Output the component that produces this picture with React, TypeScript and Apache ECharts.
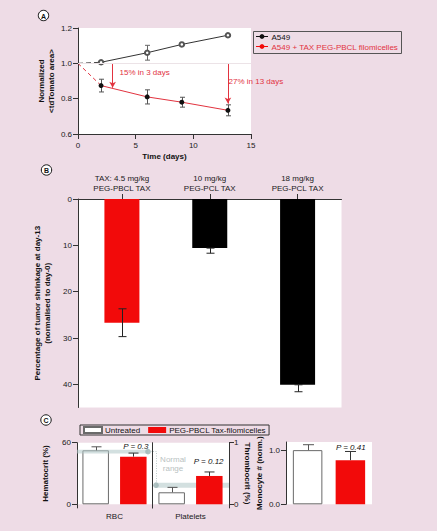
import React, { useEffect, useRef } from 'react';
import * as echarts from 'echarts';

const FONT = '"Liberation Sans", Arial, Helvetica, sans-serif';
const BG = '#eedce6';
const RED = '#f20a0a';
const LINE_RED = '#e2333f';
const AXIS = '#333333';
const BAND = 'rgba(175,198,198,0.55)';
const BAND_DOT = 'rgba(160,182,182,0.85)';
const WHITE_BAR_EDGE = '#6a6a6a';

// ---------- Panel A ----------
const days = [2, 6, 9, 13];
const controlMean = [1.006, 1.06, 1.107, 1.159];
const controlErr = [0.004, 0.042, 0.004, 0.004];
const treatedMean = [0.874, 0.81, 0.78, 0.734];
const treatedErr = [0.036, 0.04, 0.028, 0.031];
const baseline: [number, number] = [0, 1.0];
const arrowDays = [3, 13];
const arrowEnds = [0.862, 0.772];
const arrowTexts = ['15% in 3 days', '27% in 13 days'];
const legendA = ['A549', 'A549 + TAX PEG-PBCL filomicelles'];

// ---------- Panel B ----------
const doseCategories = ['TAX: 4.5 mg/kg\nPEG-PBCL TAX', '10 mg/kg\nPEG-PCL TAX', '18 mg/kg\nPEG-PCL TAX'];
const shrinkage = [26.7, 10.6, 40.1];
const shrinkageErr = [3.0, 1.1, 1.5];
const shrinkageTicks = [0, 10, 20, 30, 40];

// ---------- Panel C ----------
const groupNames = ['Untreated', 'PEG-PBCL Tax-filomicelles'];
const hematocrit = [52.6, 46.4];
const hematocritErr = [3.4, 3.5];
const thrombocrit = [0.195, 0.46];
const thrombocritErr = [0.08, 0.065];
const monocyte = [1.0, 0.815];
const monocyteErr = [0.1, 0.16];
const hematocritNormal = [49.4, 53.2];
const thrombocritNormal = [0.27, 0.35];
const monocyteTicks = [0, 1];
const pValues = ['P = 0.3', 'P = 0.12', 'P = 0.41'];

const axLine = (show = true) => ({ show, lineStyle: { color: AXIS, width: 1 } });
const axTick = (show = true, extra: any = {}) => ({ show, length: 5, lineStyle: { color: AXIS, width: 1 }, ...extra });
const axLabel = (extra: any = {}) => ({ fontSize: 8, color: '#1a1a1a', fontFamily: FONT, margin: 6, ...extra });
const nameStyle = { fontSize: 8, fontWeight: 'bold', color: '#111', fontFamily: FONT, lineHeight: 10 };

function errorBars(xAxisIndex: number, yAxisIndex: number, items: number[][], opt: { offset?: number; cap: number; color: string; both?: boolean; z?: number }) {
  return {
    type: 'custom',
    xAxisIndex,
    yAxisIndex,
    silent: true,
    z: opt.z ?? 10,
    data: items,
    renderItem: (_params: any, api: any) => {
      const x = api.value(0);
      const p1 = api.coord([x, api.value(1)]);
      const p2 = api.coord([x, api.value(2)]);
      const cx = Math.round(p1[0] + (opt.offset || 0)) + 0.5;
      const st = { stroke: opt.color, lineWidth: 1 };
      const children: any[] = [
        { type: 'line', shape: { x1: cx, y1: p1[1], x2: cx, y2: p2[1] }, style: st },
        { type: 'line', shape: { x1: cx - opt.cap, y1: p2[1], x2: cx + opt.cap, y2: p2[1] }, style: st },
      ];
      if (opt.both) children.push({ type: 'line', shape: { x1: cx - opt.cap, y1: p1[1], x2: cx + opt.cap, y2: p1[1] }, style: st });
      return { type: 'group', children };
    },
  };
}

function bandSeries(xAxisIndex: number, yAxisIndex: number, range: number[], dotSide: 'left' | 'right') {
  return {
    type: 'custom',
    xAxisIndex,
    yAxisIndex,
    silent: true,
    z: 3,
    data: [[0, range[0], range[1]]],
    renderItem: (params: any, api: any) => {
      const cs = params.coordSys;
      const a = api.coord([0, api.value(1)]);
      const b = api.coord([0, api.value(2)]);
      const y = Math.min(a[1], b[1]);
      const h = Math.abs(a[1] - b[1]);
      const x0 = dotSide === 'right' ? cs.x : cs.x + 4;
      const x1 = dotSide === 'right' ? cs.x + cs.width - 4 : cs.x + cs.width;
      const cx = dotSide === 'right' ? x1 : x0;
      return {
        type: 'group',
        children: [
          { type: 'rect', shape: { x: x0, y, width: x1 - x0, height: h }, style: { fill: BAND } },
          { type: 'circle', shape: { cx, cy: y + h / 2, r: 2.8 }, style: { fill: BAND_DOT } },
        ],
      };
    },
  };
}

function circledLetter(letter: string, x: number, y: number) {
  return [
    { type: 'circle', shape: { cx: x, cy: y, r: 5.2 }, style: { fill: '#fff', stroke: '#111', lineWidth: 1 } },
    { type: 'text', x, y: y + 0.5, style: { text: letter, fill: '#111', font: `bold 7px ${FONT}`, align: 'center', verticalAlign: 'middle' } },
  ];
}

function buildOption() {
  const barWC12 = 26.5;
  const gapC12 = 0.42;
  const offC12 = (barWC12 * (1 + gapC12)) / 2;
  const barWC3 = 29.5;
  const gapC3 = 0.45;
  const offC3 = (barWC3 * (1 + gapC3)) / 2;
  const whiteBar = { color: '#fff', borderColor: WHITE_BAR_EDGE, borderWidth: 1 };

  const series: any[] = [
    // Panel A
    {
      type: 'line', xAxisIndex: 0, yAxisIndex: 0, symbol: 'none', silent: true, z: 2,
      data: [baseline, [days[0], controlMean[0]]],
      lineStyle: { color: '#444', width: 1, type: [5, 3] },
      markLine: {
        silent: true, symbol: 'none', label: { show: false },
        lineStyle: { color: '#ece3e7', width: 1, type: 'solid' },
        data: [{ yAxis: baseline[1] }],
      },
    },
    {
      type: 'line', xAxisIndex: 0, yAxisIndex: 0, symbol: 'none', silent: true, z: 2,
      data: [baseline, [days[0], treatedMean[0]]],
      lineStyle: { color: LINE_RED, width: 1, type: [4, 3] },
    },
    {
      name: legendA[0], type: 'line', xAxisIndex: 0, yAxisIndex: 0, z: 4,
      data: days.map((d, i) => [d, controlMean[i]]),
      symbol: 'emptyCircle', symbolSize: 4.5,
      itemStyle: { color: '#555', borderWidth: 0.8 },
      lineStyle: { color: '#333', width: 1 },
    },
    {
      name: legendA[1], type: 'line', xAxisIndex: 0, yAxisIndex: 0, z: 4,
      data: days.map((d, i) => [d, treatedMean[i]]),
      symbol: 'circle', symbolSize: 5,
      itemStyle: { color: '#111' },
      lineStyle: { color: LINE_RED, width: 1 },
      markLine: {
        silent: true, symbol: ['none', 'arrow'], symbolSize: [5, 6], label: { show: false },
        lineStyle: { color: LINE_RED, width: 1, type: 'solid' },
        data: arrowDays.map((d, i) => [{ coord: [d, baseline[1] - 0.004] }, { coord: [d, arrowEnds[i]] }]),
      },
    },
    errorBars(0, 0, days.map((d, i) => [d, controlMean[i] - controlErr[i], controlMean[i] + controlErr[i]]), { cap: 2.5, color: '#666', both: true, z: 3 }),
    errorBars(0, 0, days.map((d, i) => [d, treatedMean[i] - treatedErr[i], treatedMean[i] + treatedErr[i]]), { cap: 2.5, color: '#555', both: true, z: 3 }),

    // Panel B
    {
      type: 'bar', xAxisIndex: 1, yAxisIndex: 1, barWidth: 35, silent: true,
      data: shrinkage.map((v, i) => ({ value: v, itemStyle: { color: i === 0 ? RED : '#000' } })),
    },
    errorBars(1, 1, shrinkage.map((v, i) => [i, i === 0 ? v - shrinkageErr[i] : v, v + shrinkageErr[i]]), { cap: 4, color: '#222', both: true }),

    // Panel C - RBC
    {
      name: groupNames[0], type: 'bar', xAxisIndex: 2, yAxisIndex: 2, barWidth: barWC12, barGap: `${gapC12 * 100}%`, z: 2, silent: true,
      data: [hematocrit[0]], itemStyle: whiteBar,
    },
    {
      name: groupNames[1], type: 'bar', xAxisIndex: 2, yAxisIndex: 2, barWidth: barWC12, barGap: `${gapC12 * 100}%`, z: 4, silent: true,
      data: [hematocrit[1]], itemStyle: { color: RED },
    },
    bandSeries(2, 2, hematocritNormal, 'right'),
    errorBars(2, 2, [[0, hematocrit[0], hematocrit[0] + hematocritErr[0]]], { offset: -offC12, cap: 5, color: '#555' }),
    errorBars(2, 2, [[0, hematocrit[1], hematocrit[1] + hematocritErr[1]]], { offset: offC12, cap: 5, color: '#333' }),

    // Panel C - Platelets
    {
      name: groupNames[0], type: 'bar', xAxisIndex: 3, yAxisIndex: 3, barWidth: barWC12, barGap: `${gapC12 * 100}%`, z: 2, silent: true,
      data: [thrombocrit[0]], itemStyle: whiteBar,
    },
    {
      name: groupNames[1], type: 'bar', xAxisIndex: 3, yAxisIndex: 3, barWidth: barWC12, barGap: `${gapC12 * 100}%`, z: 4, silent: true,
      data: [thrombocrit[1]], itemStyle: { color: RED },
    },
    bandSeries(3, 3, thrombocritNormal, 'left'),
    errorBars(3, 3, [[0, thrombocrit[0], thrombocrit[0] + thrombocritErr[0]]], { offset: -offC12, cap: 5, color: '#555' }),
    errorBars(3, 3, [[0, thrombocrit[1], thrombocrit[1] + thrombocritErr[1]]], { offset: offC12, cap: 5, color: '#333' }),

    // Panel C - Monocyte
    {
      name: groupNames[0], type: 'bar', xAxisIndex: 4, yAxisIndex: 5, barWidth: barWC3, barGap: `${gapC3 * 100}%`, z: 2, silent: true,
      data: [monocyte[0]], itemStyle: whiteBar,
    },
    {
      name: groupNames[1], type: 'bar', xAxisIndex: 4, yAxisIndex: 5, barWidth: barWC3, barGap: `${gapC3 * 100}%`, z: 4, silent: true,
      data: [monocyte[1]], itemStyle: { color: RED },
    },
    errorBars(4, 5, [[0, monocyte[0], monocyte[0] + monocyteErr[0]]], { offset: -offC3, cap: 5.5, color: '#555' }),
    errorBars(4, 5, [[0, monocyte[1], monocyte[1] + monocyteErr[1]]], { offset: offC3, cap: 5.5, color: '#333' }),
  ];

  const graphic: any[] = [
    ...circledLetter('A', 43.5, 15.5),
    ...circledLetter('B', 46.5, 170),
    ...circledLetter('C', 46, 420),
    // legend A
    { type: 'rect', shape: { x: 253.5, y: 31.5, width: 148, height: 22 }, style: { fill: 'none', stroke: '#555', lineWidth: 1 } },
    { type: 'line', shape: { x1: 256, y1: 36.5, x2: 268, y2: 36.5 }, style: { stroke: '#111', lineWidth: 1 } },
    { type: 'circle', shape: { cx: 262, cy: 36.5, r: 2.4 }, style: { fill: '#111' } },
    { type: 'text', x: 271.5, y: 37, style: { text: legendA[0], fill: '#111', font: `8px ${FONT}`, verticalAlign: 'middle' } },
    { type: 'line', shape: { x1: 256, y1: 46.5, x2: 268, y2: 46.5 }, style: { stroke: RED, lineWidth: 1 } },
    { type: 'circle', shape: { cx: 262, cy: 46.5, r: 2.4 }, style: { fill: RED } },
    { type: 'text', x: 271.5, y: 47, style: { text: legendA[1], fill: LINE_RED, font: `8px ${FONT}`, verticalAlign: 'middle' } },
    // arrow annotations
    { type: 'text', x: 119.5, y: 72, style: { text: arrowTexts[0], fill: LINE_RED, font: `8px ${FONT}`, verticalAlign: 'middle' } },
    { type: 'text', x: 228.5, y: 81.5, style: { text: arrowTexts[1], fill: LINE_RED, font: `8px ${FONT}`, verticalAlign: 'middle' } },
    // panel C annotations
    { type: 'text', x: 135.8, y: 446.8, style: { text: pValues[0], fill: '#111', font: `italic 8px ${FONT}`, align: 'center', verticalAlign: 'middle' } },
    { type: 'text', x: 208.7, y: 461.8, style: { text: pValues[1], fill: '#111', font: `italic 8px ${FONT}`, align: 'center', verticalAlign: 'middle' } },
    { type: 'text', x: 350.8, y: 447.3, style: { text: pValues[2], fill: '#111', font: `italic 8px ${FONT}`, align: 'center', verticalAlign: 'middle' } },
    { type: 'text', x: 173, y: 459.3, style: { text: 'Normal', fill: '#b9c2c2', font: `8px ${FONT}`, align: 'center', verticalAlign: 'middle' } },
    { type: 'text', x: 173, y: 468.6, style: { text: 'range', fill: '#b9c2c2', font: `8px ${FONT}`, align: 'center', verticalAlign: 'middle' } },
    { type: 'polyline', z: 5, shape: { points: [[150.5, 451.5], [156.5, 451.5], [156.5, 483]] }, style: { stroke: '#bccaca', lineWidth: 1, lineDash: [1, 1.5], fill: 'none' } },
  ];

  return {
    animation: false,
    backgroundColor: BG,
    textStyle: { fontFamily: FONT },
    grid: [
      { left: 78, top: 28, width: 173, height: 106, show: true, backgroundColor: '#fff', borderWidth: 0 },
      { left: 78, top: 199, width: 263.5, height: 208.5, show: true, backgroundColor: '#fff', borderWidth: 0 },
      { left: 77, top: 442.7, width: 75, height: 61.6, show: true, backgroundColor: '#fff', borderWidth: 0 },
      { left: 152, top: 442.7, width: 77, height: 61.6, show: true, backgroundColor: '#fff', borderWidth: 0 },
      { left: 286, top: 442, width: 86, height: 62.3, show: true, backgroundColor: '#fff', borderWidth: 0 },
    ],
    xAxis: [
      {
        gridIndex: 0, type: 'value', min: 0, max: 15, interval: 5,
        axisLine: axLine(), axisTick: axTick(), axisLabel: axLabel({ margin: 7 }), splitLine: { show: false },
        name: 'Time (days)', nameLocation: 'middle', nameGap: 17, nameTextStyle: nameStyle,
      },
      {
        gridIndex: 1, type: 'category', position: 'top', data: doseCategories,
        axisLine: axLine(), axisTick: axTick(true, { alignWithLabel: true }),
        axisLabel: axLabel({ margin: 6, lineHeight: 9.5, interval: 0 }), splitLine: { show: false },
      },
      {
        gridIndex: 2, type: 'category', data: ['RBC'],
        axisLine: axLine(false), axisTick: axTick(true, { length: 4 }), axisLabel: axLabel({ margin: 8 }),
      },
      {
        gridIndex: 3, type: 'category', data: ['Platelets'],
        axisLine: axLine(false), axisTick: axTick(true, { length: 4 }), axisLabel: axLabel({ margin: 8 }),
      },
      {
        gridIndex: 4, type: 'category', data: ['Monocyte'],
        axisLine: axLine(false), axisTick: axTick(false), axisLabel: { show: false },
      },
    ],
    yAxis: [
      {
        gridIndex: 0, type: 'value', min: 0.6, max: 1.2, interval: 0.2,
        axisLine: axLine(), axisTick: axTick(), splitLine: { show: false },
        axisLabel: axLabel({ formatter: (v: number) => v.toFixed(1) }),
        name: 'Normalized\n<tdTomato area>', nameLocation: 'middle', nameRotate: 90, nameGap: 20, nameTextStyle: nameStyle,
      },
      {
        gridIndex: 1, type: 'value', min: 0, max: 45, inverse: true,
        axisLine: axLine(), splitLine: { show: false },
        axisTick: axTick(true, { customValues: shrinkageTicks }),
        axisLabel: axLabel({ customValues: shrinkageTicks }),
        name: 'Percentage of tumor shrinkage at day-13\n(normalised to day-0)', nameLocation: 'middle', nameRotate: 90, nameGap: 14, nameTextStyle: nameStyle,
      },
      {
        gridIndex: 2, type: 'value', min: 0, max: 60, interval: 60,
        axisLine: axLine(), axisTick: axTick(), splitLine: { show: false }, axisLabel: axLabel(),
        name: 'Hematocrit (%)', nameLocation: 'middle', nameRotate: 90, nameGap: 27, nameTextStyle: nameStyle,
      },
      {
        gridIndex: 3, type: 'value', position: 'right', min: 0, max: 1, interval: 1,
        axisLine: axLine(), axisTick: axTick(), splitLine: { show: false }, axisLabel: axLabel({ margin: 5 }),
        name: 'Thrombocrit (%)', nameLocation: 'middle', nameRotate: -90, nameGap: 11, nameTextStyle: nameStyle,
      },
      {
        gridIndex: 3, type: 'value', position: 'left', min: 0, max: 1,
        axisLine: axLine(), axisTick: { show: false }, axisLabel: { show: false }, splitLine: { show: false },
      },
      {
        gridIndex: 4, type: 'value', min: 0, max: 1.15,
        axisLine: axLine(), splitLine: { show: false },
        axisTick: axTick(true, { customValues: monocyteTicks }),
        axisLabel: axLabel({ customValues: monocyteTicks, formatter: (v: number) => v.toFixed(1) }),
        name: 'Monocyte # (norm.)', nameLocation: 'middle', nameRotate: 90, nameGap: 19, nameTextStyle: nameStyle,
      },
    ],
    legend: {
      data: groupNames,
      left: 80, top: 425,
      selectedMode: false,
      icon: 'rect',
      itemWidth: 18, itemHeight: 6, itemGap: 8,
      padding: [1, 3],
      borderColor: '#333', borderWidth: 1,
      textStyle: { fontSize: 8, color: '#111', fontFamily: FONT, padding: [0, 0, 0, -2] },
    },
    series,
    graphic,
  };
}

export default function App() {
  const ref = useRef<HTMLDivElement>(null);
  useEffect(() => {
    const chart = echarts.init(ref.current as HTMLDivElement, null, { renderer: 'svg' });
    chart.setOption(buildOption() as any);
    return () => chart.dispose();
  }, []);
  return <div ref={ref} style={{ position: 'fixed', left: 0, top: 0, width: 437, height: 531 }} />;
}
